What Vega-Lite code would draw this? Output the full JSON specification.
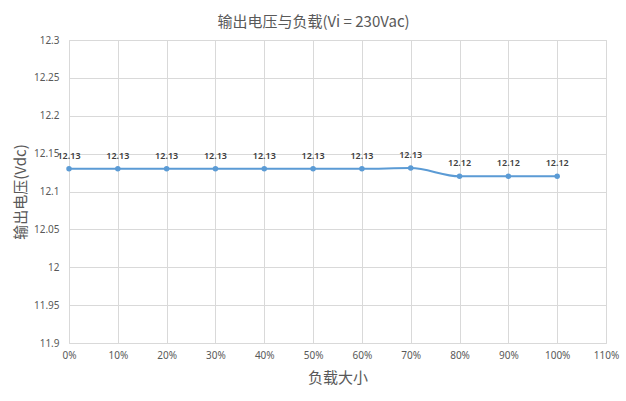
{
  "$schema": "https://vega.github.io/schema/vega-lite/v6.json",
  "width": 537,
  "height": 303,
  "autosize": {"type": "none"},
  "padding": {"left": 69, "top": 40, "right": 20, "bottom": 58},
  "background": "white",
  "title": {
    "text": "输出电压与负载(Vi = 230Vac)",
    "font": "Noto Sans CJK SC",
    "fontSize": 15,
    "fontWeight": "normal",
    "color": "#595959",
    "offset": 5,
    "dx": -24
  },
  "data": {
    "values": [
      {"load": 0, "v": 12.13},
      {"load": 10, "v": 12.13},
      {"load": 20, "v": 12.13},
      {"load": 30, "v": 12.13},
      {"load": 40, "v": 12.13},
      {"load": 50, "v": 12.13},
      {"load": 60, "v": 12.13},
      {"load": 70, "v": 12.131},
      {"load": 80, "v": 12.12},
      {"load": 90, "v": 12.12},
      {"load": 100, "v": 12.12}
    ]
  },
  "encoding": {
    "x": {
      "field": "load",
      "type": "quantitative",
      "scale": {"domain": [0, 110], "nice": false},
      "axis": {
        "values": [0, 10, 20, 30, 40, 50, 60, 70, 80, 90, 100, 110],
        "labelExpr": "datum.value + '%'",
        "labelFlush": false,
        "title": "负载大小",
        "titleFont": "Noto Sans CJK SC",
        "titleFontSize": 15,
        "titleFontWeight": "normal",
        "titleColor": "#595959",
        "titlePadding": 10,
        "labelFont": "Noto Sans",
        "labelFontSize": 10,
        "labelColor": "#595959",
        "labelPadding": 7,
        "domain": false,
        "ticks": false,
        "grid": true,
        "gridColor": "#d9d9d9"
      }
    },
    "y": {
      "field": "v",
      "type": "quantitative",
      "scale": {"domain": [11.9, 12.3], "nice": false, "zero": false},
      "axis": {
        "values": [11.9, 11.95, 12, 12.05, 12.1, 12.15, 12.2, 12.25, 12.3],
        "format": "~g",
        "labelFlush": false,
        "title": "输出电压(Vdc)",
        "titleFont": "Noto Sans CJK SC",
        "titleFontSize": 15,
        "titleFontWeight": "normal",
        "titleColor": "#595959",
        "titlePadding": 5,
        "labelFont": "Noto Sans",
        "labelFontSize": 10,
        "labelColor": "#595959",
        "labelPadding": 10,
        "domain": false,
        "ticks": false,
        "grid": true,
        "gridColor": "#d9d9d9"
      }
    }
  },
  "layer": [
    {
      "mark": {"type": "line", "interpolate": "monotone", "color": "#5b9bd5", "strokeWidth": 2}
    },
    {
      "mark": {"type": "point", "filled": true, "color": "#5b9bd5", "size": 30, "opacity": 1}
    },
    {
      "mark": {"type": "text", "dy": -13, "font": "Noto Sans", "fontSize": 9, "fontWeight": 600, "color": "#404040"},
      "encoding": {"text": {"field": "v", "type": "quantitative", "format": ".2f"}}
    }
  ],
  "config": {"view": {"stroke": "#d9d9d9"}}
}
